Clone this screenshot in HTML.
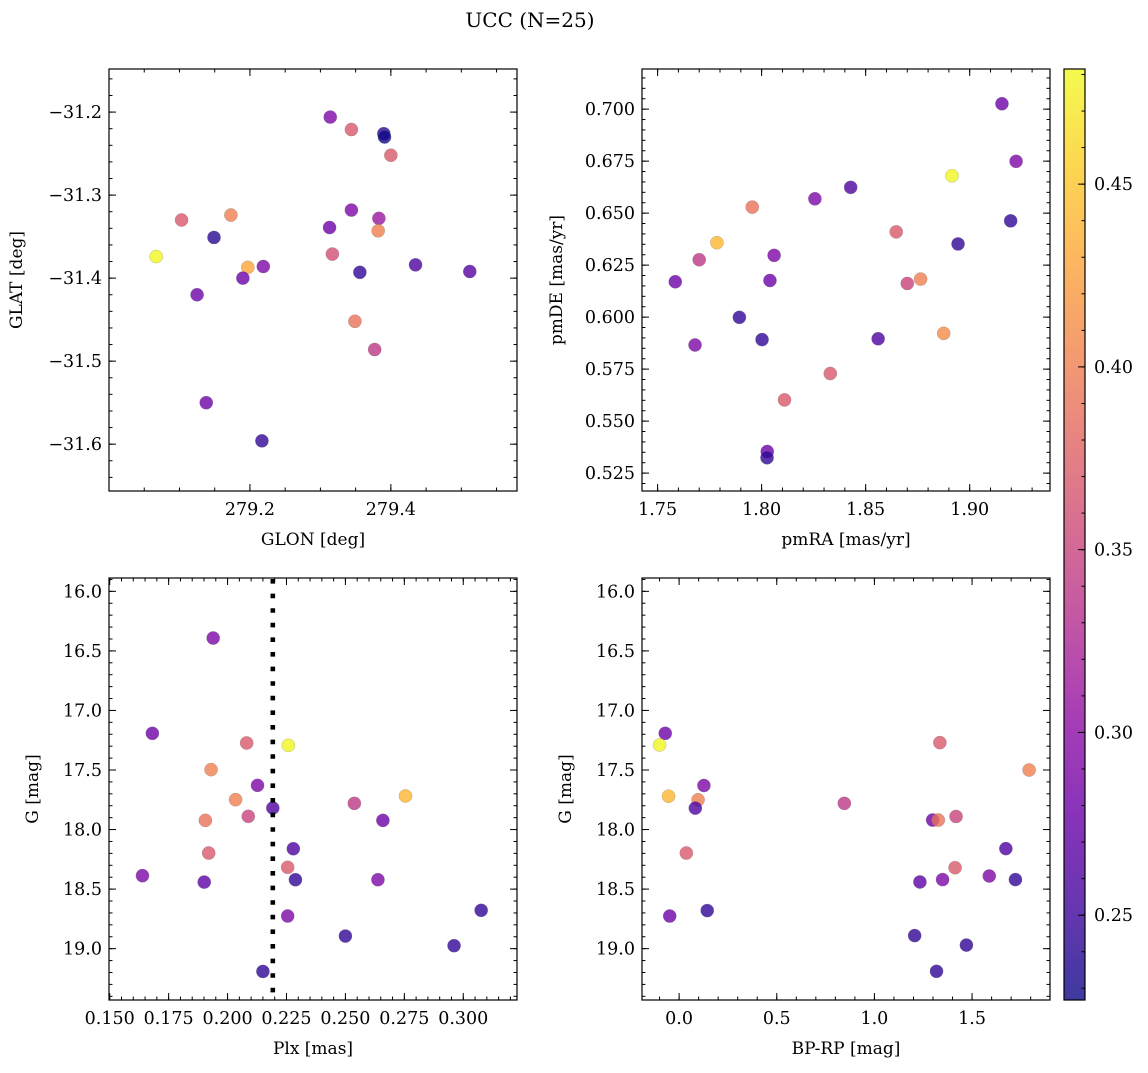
<!DOCTYPE html>
<html><head><meta charset="utf-8"><style>
html,body{margin:0;padding:0;background:#fff}
svg text{font-family:"DejaVu Serif","Liberation Serif",serif;fill:#000}
</style></head><body>
<svg id="fig" width="1148" height="1068" viewBox="0 0 1148 1068" xmlns="http://www.w3.org/2000/svg">
<text x="530" y="27" font-size="20" text-anchor="middle">UCC (N=25)</text>
</svg>
<script>
// ---- Panel 1: GLON vs GLAT ----
const p1X=[279.067,279.103,279.149,279.173,279.125,279.197,279.190,279.219,279.138,279.217,279.314,279.344,279.390,279.391,279.400,279.344,279.383,279.313,279.382,279.317,279.356,279.435,279.512,279.349,279.377];
const p1Y=[-31.374,-31.330,-31.351,-31.324,-31.420,-31.387,-31.400,-31.386,-31.550,-31.596,-31.206,-31.221,-31.226,-31.230,-31.252,-31.318,-31.328,-31.339,-31.343,-31.371,-31.393,-31.384,-31.392,-31.452,-31.486];
const p1C=[0.48,0.37,0.24,0.40,0.28,0.43,0.28,0.29,0.28,0.245,0.29,0.37,0.24,0.228,0.37,0.29,0.31,0.28,0.40,0.36,0.245,0.26,0.265,0.39,0.34];
// ---- Panel 2: pmRA vs pmDE ----
const p2X=[1.7585,1.770,1.7785,1.7955,1.806,1.804,1.7893,1.768,1.8002,1.811,1.8027,1.8026,1.8256,1.8428,1.833,1.856,1.8647,1.870,1.8764,1.8875,1.8915,1.8944,1.9155,1.9223,1.9197];
const p2Y=[0.617,0.6276,0.6358,0.6529,0.6297,0.6176,0.5999,0.5866,0.5892,0.5602,0.5354,0.5324,0.6569,0.6624,0.5729,0.5896,0.641,0.6162,0.6183,0.5922,0.668,0.6352,0.7026,0.6749,0.6463];
const p2C=[0.28,0.34,0.44,0.39,0.29,0.28,0.245,0.29,0.245,0.37,0.28,0.245,0.29,0.26,0.37,0.26,0.37,0.35,0.40,0.41,0.48,0.245,0.28,0.29,0.245];
// ---- Panel 3: Plx vs G ----
const p3X=[0.1939,0.1681,0.2081,0.2258,0.1930,0.2127,0.2034,0.2755,0.2192,0.2538,0.2088,0.1906,0.2659,0.2279,0.1920,0.2255,0.2288,0.1639,0.1901,0.2638,0.2255,0.3076,0.2500,0.2961,0.2150];
const p3Y=[16.392,17.192,17.273,17.293,17.497,17.629,17.749,17.718,17.819,17.780,17.889,17.923,17.923,18.161,18.197,18.317,18.421,18.387,18.441,18.421,18.726,18.678,18.894,18.975,19.191];
const p3C=[0.29,0.28,0.37,0.48,0.40,0.29,0.40,0.44,0.26,0.34,0.35,0.39,0.28,0.26,0.37,0.37,0.245,0.29,0.27,0.29,0.29,0.245,0.245,0.245,0.245];
const plxLine=[0.2192];
// ---- Panel 4: BP-RP vs G ----
const p4X=[-0.071,-0.100,-0.054,0.127,0.097,0.083,0.037,-0.048,0.144,0.846,1.335,1.792,1.298,1.327,1.418,1.673,1.413,1.722,1.588,1.233,1.349,1.206,1.471,1.318];
const p4Y=[17.192,17.29,17.72,17.63,17.75,17.82,18.197,18.726,18.68,17.78,17.27,17.50,17.92,17.92,17.89,18.16,18.32,18.42,18.39,18.44,18.42,18.89,18.97,19.19];
const p4C=[0.28,0.48,0.44,0.29,0.40,0.26,0.37,0.28,0.245,0.34,0.37,0.40,0.28,0.39,0.35,0.26,0.37,0.245,0.29,0.27,0.29,0.245,0.245,0.245];
// tick labels
const p1XTicks=[279.2,279.4], p1YTicks=[-31.2,-31.3,-31.4,-31.5,-31.6];
const p2XTicks=[1.75,1.80,1.85,1.90], p2YTicks=[0.525,0.55,0.575,0.6,0.625,0.65,0.675,0.7];
const p3XTicks=[0.15,0.175,0.2,0.225,0.25,0.275,0.3], gTicks=[16,16.5,17,17.5,18,18.5,19];
const p4XTicks=[0,0.5,1,1.5];
const cbTicks=[0.25,0.30,0.35,0.40,0.45];
const cMin=0.2268,cMax=0.4815;

const NS="http://www.w3.org/2000/svg";
const svg=document.getElementById('fig');
function mk(tag,attrs,parent){const e=document.createElementNS(NS,tag);for(const k in attrs)e.setAttribute(k,attrs[k]);(parent||svg).appendChild(e);return e;}
const stops=[[13,8,135],[65,4,157],[106,0,168],[143,13,164],[177,42,144],[204,71,120],[225,100,98],[242,132,75],[252,166,54],[252,206,37],[240,249,33]];
function plasma(t){t=Math.max(0,Math.min(1,t));const s=t*10,i=Math.min(9,Math.floor(s)),f=s-i;const a=stops[i],b=stops[i+1];return `rgb(${Math.round(a[0]+(b[0]-a[0])*f)},${Math.round(a[1]+(b[1]-a[1])*f)},${Math.round(a[2]+(b[2]-a[2])*f)})`;}
function cnorm(c){return (c-cMin)/(cMax-cMin);}
function fmt(v,d){let s=v.toFixed(d);if(v<0)s='\u2212'+s.slice(1);return s;}

function panel(o){
  const g=mk('g',{});
  
  
  const sx=v=>o.x0+(v-o.xmin)/(o.xmax-o.xmin)*(o.x1-o.x0);
  const sy=o.inv ? (v=>o.y0+(v-o.ymin)/(o.ymax-o.ymin)*(o.y1-o.y0)) : (v=>o.y0+(o.ymax-v)/(o.ymax-o.ymin)*(o.y1-o.y0));
  const pg=mk('g',{},g);
  
  
  for(let i=0;i<o.xs.length;i++){
    const c=mk('circle',{cx:sx(o.xs[i]),cy:sy(o.ys[i]),r:6.6,fill:plasma(cnorm(o.cs[i])),'fill-opacity':0.8,stroke:'#777','stroke-width':0.4,'stroke-opacity':0.6},pg);
    
    
  }
  if(o.vline){for(const v of o.vline){const l=mk('line',{x1:sx(v),x2:sx(v),y1:o.y0+1,y2:o.y1,stroke:'#000','stroke-width':4.6,'stroke-dasharray':'4.6 10'},g);
    
    }}
  const tg=mk('g',{stroke:'#000','stroke-width':1},g);
  function range(a,b,st){const r=[];const n0=Math.ceil(a/st-1e-6),n1=Math.floor(b/st+1e-6);for(let n=n0;n<=n1;n++)r.push(n*st);return r;}
  for(const v of range(o.xmin,o.xmax,o.xminor)){const X=sx(v);mk('line',{x1:X,x2:X,y1:o.y1,y2:o.y1-3.5},tg);mk('line',{x1:X,x2:X,y1:o.y0,y2:o.y0+3.5},tg);}
  for(const v of range(o.ymin,o.ymax,o.yminor)){const Y=sy(v);mk('line',{x1:o.x0,x2:o.x0+3.5,y1:Y,y2:Y},tg);mk('line',{x1:o.x1,x2:o.x1-3.5,y1:Y,y2:Y},tg);}
  for(const v of o.xt){const X=sx(v);mk('line',{x1:X,x2:X,y1:o.y1,y2:o.y1-7},tg);mk('line',{x1:X,x2:X,y1:o.y0,y2:o.y0+7},tg);
    const t=mk('text',{x:X,y:o.y1+24,'font-size':17.5,'text-anchor':'middle'},g);t.textContent=fmt(v,o.xd);
    
    }
  for(const v of o.yt){const Y=sy(v);mk('line',{x1:o.x0,x2:o.x0+7,y1:Y,y2:Y},tg);mk('line',{x1:o.x1,x2:o.x1-7,y1:Y,y2:Y},tg);
    const t=mk('text',{x:o.x0-7,y:Y+6,'font-size':17.5,'text-anchor':'end'},g);t.textContent=fmt(v,o.yd);
    
    }
  const fr=mk('rect',{x:o.x0,y:o.y0,width:o.x1-o.x0,height:o.y1-o.y0,fill:'none',stroke:'#000','stroke-width':1.2},g);
  
  
  const xl=mk('text',{x:(o.x0+o.x1)/2,y:o.y1+54,'font-size':17,'text-anchor':'middle'},g);xl.textContent=o.xlabel;
  
  
  const yl=mk('text',{x:0,y:0,'font-size':17,'text-anchor':'middle',transform:`translate(${o.ylx},${(o.y0+o.y1)/2}) rotate(-90)`},g);yl.textContent=o.ylabel;
  
  
}
panel({name:'glon-glat-panel',x0:109,x1:517,y0:69,y1:491,xmin:279.0,xmax:279.579,ymin:-31.6564,ymax:-31.1481,xs:p1X,ys:p1Y,cs:p1C,xt:p1XTicks,yt:p1YTicks,xd:1,yd:1,xminor:0.05,yminor:0.02,xlabel:'GLON [deg]',ylabel:'GLAT [deg]',ylx:22});
panel({name:'pmra-pmde-panel',x0:642,x1:1050,y0:69,y1:491,xmin:1.7425,xmax:1.9386,ymin:0.5164,ymax:0.7193,xs:p2X,ys:p2Y,cs:p2C,xt:p2XTicks,yt:p2YTicks,xd:2,yd:3,xminor:0.01,yminor:0.005,xlabel:'pmRA [mas/yr]',ylabel:'pmDE [mas/yr]',ylx:562});
panel({name:'plx-g-panel',inv:true,x0:109,x1:517,y0:578,y1:1000,xmin:0.1497,xmax:0.3228,ymin:15.888,ymax:19.431,xs:p3X,ys:p3Y,cs:p3C,xt:p3XTicks,yt:gTicks,xd:3,yd:1,xminor:0.005,yminor:0.1,xlabel:'Plx [mas]',ylabel:'G [mag]',ylx:38,vline:plxLine});
panel({name:'bprp-g-panel',inv:true,x0:642,x1:1050,y0:578,y1:1000,xmin:-0.190,xmax:1.899,ymin:15.888,ymax:19.431,xs:p4X,ys:p4Y,cs:p4C,xt:p4XTicks,yt:gTicks,xd:1,yd:1,xminor:0.1,yminor:0.1,xlabel:'BP-RP [mag]',ylabel:'G [mag]',ylx:571});
(function(){
  const x0=1064,x1=1085,y0=69,y1=1000;
  const g=mk('g',{});
  
  
  const defs=mk('defs',{},g);const lg=mk('linearGradient',{id:'cbg',x1:0,y1:1,x2:0,y2:0},defs);
  for(let i=0;i<=20;i++)mk('stop',{offset:i/20,'stop-color':plasma(i/20),'stop-opacity':0.8},lg);
  mk('rect',{x:x0,y:y0,width:x1-x0,height:y1-y0,fill:'url(#cbg)'},g);
  const sy=v=>y1-(v-cMin)/(cMax-cMin)*(y1-y0);
  for(let v=0.23;v<=0.4815;v+=0.01){mk('line',{x1:x1,x2:x1-3.5,y1:sy(v),y2:sy(v),stroke:'#000'},g);}
  for(const v of cbTicks){const Y=sy(v);mk('line',{x1:x1,x2:x1-7,y1:Y,y2:Y,stroke:'#000'},g);
    const t=mk('text',{x:x1+9,y:Y+6,'font-size':17.5},g);t.textContent=v.toFixed(2);
    
    }
  mk('rect',{x:x0,y:y0,width:x1-x0,height:y1-y0,fill:'none',stroke:'#000','stroke-width':1.2},g);
})();
</script>
</body></html>
